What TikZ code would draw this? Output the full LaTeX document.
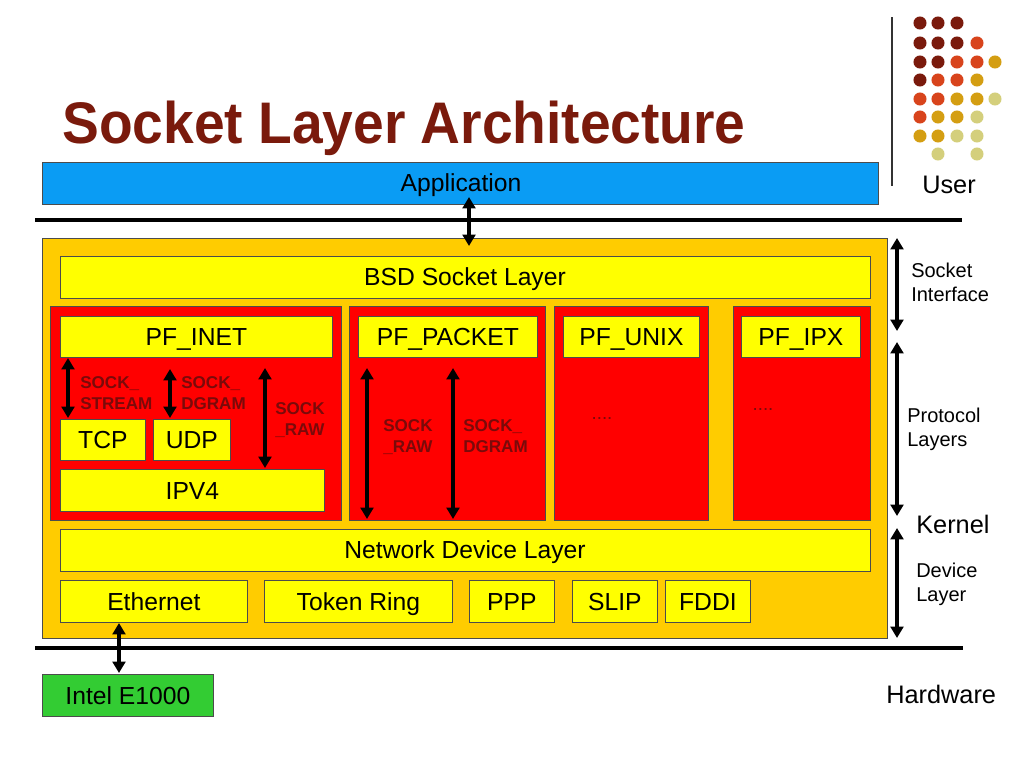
\documentclass[tikz,border=0pt]{standalone}
\usepackage{fontspec}
\setmainfont{Liberation Sans}
\usetikzlibrary{arrows.meta}
\definecolor{maroon}{HTML}{7A1A0C}
\definecolor{orred}{HTML}{D8441C}
\definecolor{gold}{HTML}{D49E12}
\definecolor{khaki}{HTML}{D4CF7C}
\definecolor{appblue}{HTML}{0A9CF4}
\definecolor{outer}{HTML}{FFCC00}
\definecolor{ylw}{HTML}{FFFF00}
\definecolor{rd}{HTML}{FF0000}
\definecolor{grn}{HTML}{33CC33}
\definecolor{sockc}{HTML}{7A0A0A}
\tikzset{
  box/.style={draw=black!70, line width=0.6pt, inner sep=0pt, anchor=north west},
  ybox/.style={box, fill=ylw},
  rbox/.style={box, fill=rd},
  lbl/.style={font=\fontsize{18.5}{20}\selectfont, inner sep=0pt, text height=13.2pt, text depth=0pt},
  dbl/.style={line width=3pt, {Triangle[width=9.5pt,length=8.5pt]}-{Triangle[width=9.5pt,length=8.5pt]}},
  sock/.style={font=\bfseries\fontsize{12.8}{15.75}\selectfont, text=sockc, align=left, inner sep=0pt, anchor=north west},
  side/.style={font=\fontsize{15}{18}\selectfont, align=left, inner sep=0pt, anchor=north west},
  big/.style={font=\fontsize{19}{21}\selectfont, inner sep=0pt, anchor=base west},
  dots/.style={font=\fontsize{14}{16}\selectfont, text=sockc, inner sep=0pt},
  dot/.style={circle, minimum size=9.8pt, inner sep=0pt},
}
\begin{document}
\begin{tikzpicture}[x=0.75pt,y=-0.75pt]
\useasboundingbox (0,0) rectangle (1024,768);
% decorative dots
\foreach \c/\xx/\yy in {
 maroon/920/23, maroon/938/23, maroon/957/23,
 maroon/920/43, maroon/938/43, maroon/957/43, orred/977/43,
 maroon/920/62, maroon/938/62, orred/957/62, orred/977/62, gold/995/62,
 maroon/920/80, orred/938/80, orred/957/80, gold/977/80,
 orred/920/99, orred/938/99, gold/957/99, gold/977/99, khaki/995/99,
 orred/920/117, gold/938/117, gold/957/117, khaki/977/117,
 gold/920/136, gold/938/136, khaki/957/136, khaki/977/136,
 khaki/938/154, khaki/977/154}
 { \node[dot, fill=\c] at (\xx,\yy) {}; }
\draw[black!80, line width=0.8pt] (892,17) -- (892,186);
% title
\node[anchor=base west, inner sep=0pt, text=maroon, font=\bfseries\fontsize{44}{50}\selectfont] (title) at (62,143) {\scalebox{0.94}[1]{Socket Layer Architecture}};
% application
\node[box, fill=appblue, minimum width=836*0.75pt, minimum height=42*0.75pt] (app) at (42,162) {};
\node[lbl] (apptxt) at (461,183) {Application};
\node[big] (user) at (922,193) {User};
% separator lines
\draw[line width=3pt] (35,220) -- (962,220);
\draw[line width=3pt] (35,648) -- (963,648);
% outer kernel box
\node[box, fill=outer, minimum width=845*0.75pt, minimum height=400*0.75pt] (outerbox) at (42,238) {};
\coordinate (a1) at (469,197);
\coordinate (a2) at (469,246);
\draw[dbl] (a1) -- (a2);
% BSD
\node[ybox, minimum width=810*0.75pt, minimum height=42*0.75pt] (bsd) at (60,256) {};
\node[lbl] (bsdt) at (465,277) {BSD Socket Layer};
% red boxes
\node[rbox, minimum width=291*0.75pt, minimum height=214*0.75pt] (inet) at (50,306) {};
\node[rbox, minimum width=196*0.75pt, minimum height=214*0.75pt] (packet) at (349,306) {};
\node[rbox, minimum width=154*0.75pt, minimum height=214*0.75pt] (unix) at (554,306) {};
\node[rbox, minimum width=137*0.75pt, minimum height=214*0.75pt] (ipx) at (733,306) {};
% yellow headers
\node[ybox, minimum width=272*0.75pt, minimum height=41*0.75pt] (inety) at (60,316) {};
\node[lbl] at (inety.center) {PF\_INET};
\node[ybox, minimum width=179*0.75pt, minimum height=41*0.75pt] (packety) at (358,316) {};
\node[lbl] at (packety.center) {PF\_PACKET};
\node[ybox, minimum width=136*0.75pt, minimum height=41*0.75pt] (unixy) at (563,316) {};
\node[lbl] at (unixy.center) {PF\_UNIX};
\node[ybox, minimum width=119*0.75pt, minimum height=41*0.75pt] (ipxy) at (741,316) {};
\node[lbl] at (ipxy.center) {PF\_IPX};
% TCP UDP IPV4
\node[ybox, minimum width=85*0.75pt, minimum height=41*0.75pt] (tcp) at (60,419) {};
\node[lbl] at (tcp.center) {TCP};
\node[ybox, minimum width=77*0.75pt, minimum height=41*0.75pt] (udp) at (153,419) {};
\node[lbl] at (udp.center) {UDP};
\node[ybox, minimum width=264*0.75pt, minimum height=42*0.75pt] (ipv4) at (60,469) {};
\node[lbl] at (ipv4.center) {IPV4};
% PF_INET arrows
\coordinate (s1a) at (68,358); \coordinate (s1b) at (68,418);
\draw[dbl] (s1a) -- (s1b);
\coordinate (s2a) at (170,369); \coordinate (s2b) at (170,418);
\draw[dbl] (s2a) -- (s2b);
\coordinate (s3a) at (265,368); \coordinate (s3b) at (265,468);
\draw[dbl] (s3a) -- (s3b);
\node[sock] (l1) at (80,376) {SOCK\_\\STREAM};
\node[sock] (l2) at (181,376) {SOCK\_\\DGRAM};
\node[sock] (l3) at (275,402) {SOCK\\\_RAW};
% PF_PACKET arrows
\coordinate (p1a) at (367,368); \coordinate (p1b) at (367,519);
\draw[dbl] (p1a) -- (p1b);
\coordinate (p2a) at (453,368); \coordinate (p2b) at (453,519);
\draw[dbl] (p2a) -- (p2b);
\node[sock] (l4) at (383,419) {SOCK\\\_RAW};
\node[sock] (l5) at (463,419) {SOCK\_\\DGRAM};
% ellipses
\node[dots] (d1) at (602,418) {....};
\node[dots] (d2) at (763,409) {....};
% network device
\node[ybox, minimum width=810*0.75pt, minimum height=42*0.75pt] (ndl) at (60,529) {};
\node[lbl] at (465,550) {Network Device Layer};
% devices
\node[ybox, minimum width=187*0.75pt, minimum height=42*0.75pt] (eth) at (60,580) {};
\node[lbl] at (eth.center) {Ethernet};
\node[ybox, minimum width=188*0.75pt, minimum height=42*0.75pt] (tr) at (264,580) {};
\node[lbl] at (tr.center) {Token Ring};
\node[ybox, minimum width=85*0.75pt, minimum height=42*0.75pt] (ppp) at (469,580) {};
\node[lbl] at (ppp.center) {PPP};
\node[ybox, minimum width=85*0.75pt, minimum height=42*0.75pt] (slip) at (572,580) {};
\node[lbl] at (slip.center) {SLIP};
\node[ybox, minimum width=85*0.75pt, minimum height=42*0.75pt] (fddi) at (665,580) {};
\node[lbl] at (fddi.center) {FDDI};
% intel
\node[box, fill=grn, minimum width=171*0.75pt, minimum height=42*0.75pt] (intel) at (42,674) {};
\node[lbl] at (intel.center) {Intel E1000};
\coordinate (e1) at (119,623); \coordinate (e2) at (119,673);
\draw[dbl] (e1) -- (e2);
% right side arrows
\coordinate (r1a) at (897,238); \coordinate (r1b) at (897,331);
\draw[dbl] (r1a) -- (r1b);
\coordinate (r2a) at (897,342); \coordinate (r2b) at (897,516);
\draw[dbl] (r2a) -- (r2b);
\coordinate (r3a) at (897,528); \coordinate (r3b) at (897,638);
\draw[dbl] (r3a) -- (r3b);
\node[side] (si) at (911,263) {Socket\\Interface};
\node[side] (pl) at (907,408) {Protocol\\Layers};
\node[big] (kern) at (916,533) {Kernel};
\node[side] (dl) at (916,563) {Device\\Layer};
\node[big] (hw) at (886,703) {Hardware};
\end{tikzpicture}
\end{document}
